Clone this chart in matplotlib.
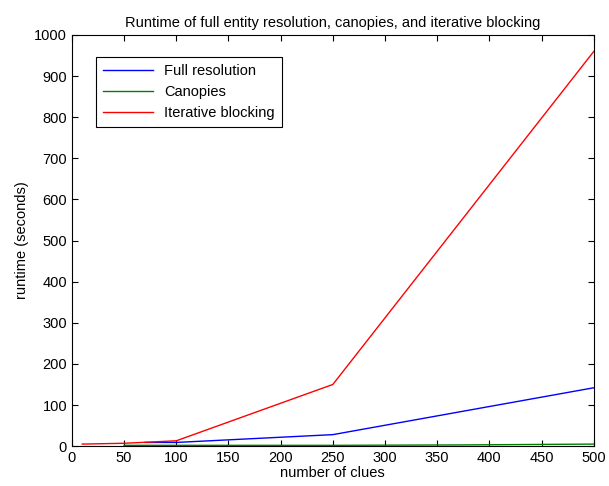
import matplotlib
matplotlib.use('Agg')
import matplotlib.pyplot as plt

plt.rcParams['font.family'] = ['Liberation Sans', 'DejaVu Sans']

# runtime (seconds) vs number of clues
full_x = [70, 100, 250, 500]
full_y = [9, 9, 28, 142]
canopy_x = [50, 100, 250, 375, 500]
canopy_y = [2, 2, 2, 3, 5]
iter_x = [10, 50, 100, 250, 500]
iter_y = [5, 7, 13, 150, 960]

fig = plt.figure(figsize=(6.09, 4.86), dpi=100)
ax = fig.add_axes([0.118, 0.082, 0.857, 0.846])

ax.plot(full_x, full_y, color='b', lw=1, label='Full resolution')
ax.plot(canopy_x, canopy_y, color='#008000', lw=1, label='Canopies')
ax.plot(iter_x, iter_y, color='r', lw=1, label='Iterative blocking')

ax.set_xlim(0, 500)
ax.set_ylim(0, 1000)
ax.set_xticks(range(0, 501, 50))
ax.set_yticks(range(0, 1001, 100))
ax.tick_params(direction='in', top=True, right=True, labelsize=10.5, length=4)
ax.set_xlabel('number of clues', fontsize=10.5, labelpad=1)
ax.set_ylabel('runtime (seconds)', fontsize=10.5)
ax.set_title('Runtime of full entity resolution, canopies, and iterative blocking', fontsize=10.5)

leg = ax.legend(loc='upper left', bbox_to_anchor=(0.046, 0.946), fontsize=10.5,
                fancybox=False, edgecolor='k', framealpha=1,
                handlelength=3.4, borderpad=0.5, labelspacing=0.45, borderaxespad=0)
leg.get_frame().set_linewidth(0.8)

fig.savefig('out.png', dpi=100)
